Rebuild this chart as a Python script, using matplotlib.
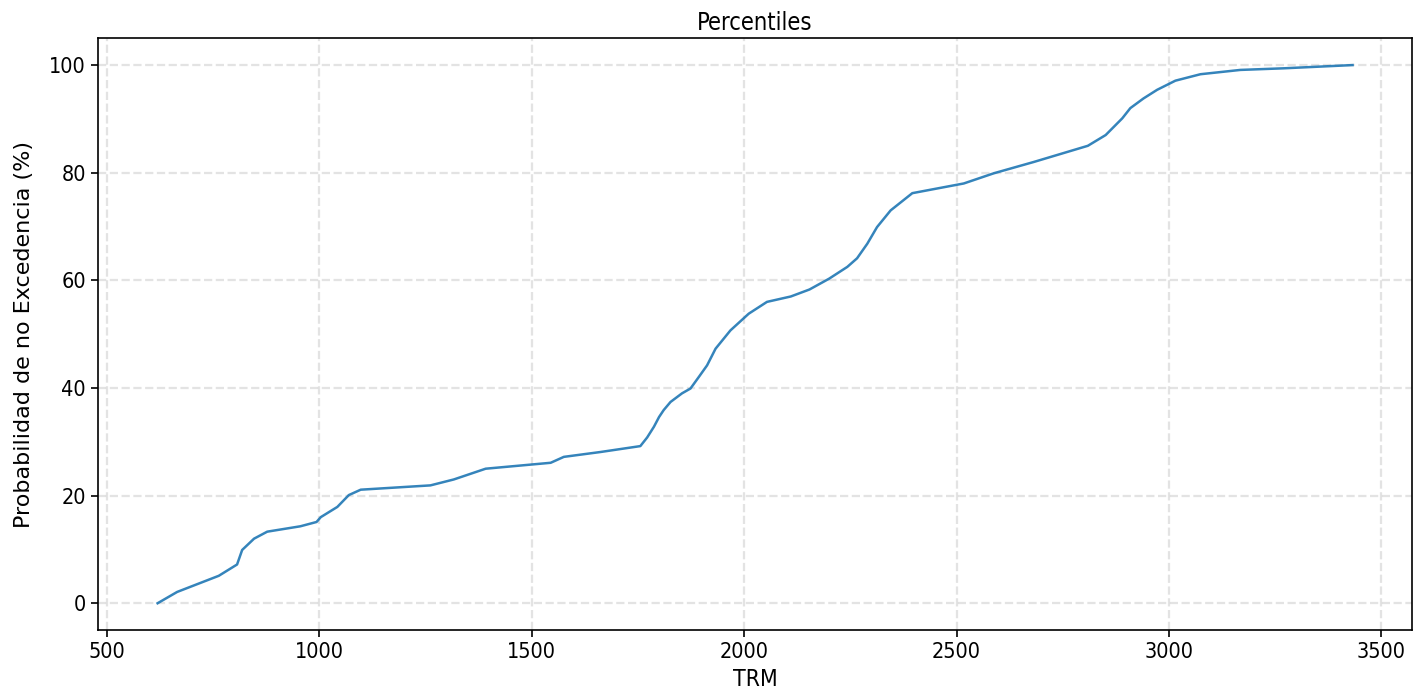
import matplotlib
matplotlib.use("Agg")
import matplotlib.pyplot as plt

trm = [620, 666, 764, 807, 819, 847, 878, 956, 994, 1004, 1043, 1070, 1098,
       1262, 1317, 1392, 1545, 1576, 1662, 1756, 1772, 1788, 1800, 1811, 1827,
       1854, 1874, 1895, 1913, 1933, 1968, 2011, 2054, 2110, 2154, 2200, 2243,
       2266, 2290, 2313, 2345, 2396, 2517, 2588, 2682, 2809, 2851, 2890, 2909,
       2940, 2972, 3015, 3074, 3168, 3270, 3432]
prob = [0.0, 2.1, 5.1, 7.2, 9.9, 12.0, 13.3, 14.3, 15.1, 16.0, 17.9, 20.1, 21.1,
        21.9, 23.0, 25.0, 26.1, 27.2, 28.1, 29.2, 30.8, 32.8, 34.6, 35.9, 37.4,
        39.0, 39.9, 42.2, 44.2, 47.3, 50.7, 53.8, 56.0, 57.0, 58.3, 60.3, 62.5,
        64.1, 66.8, 69.9, 73.0, 76.2, 78.0, 79.9, 82.0, 85.0, 87.0, 90.1, 92.0,
        93.8, 95.4, 97.1, 98.3, 99.1, 99.4, 100.0]

fig, ax = plt.subplots(figsize=(14.18, 6.94), dpi=100)
ax.plot(trm, prob, color='#1f77b4', linewidth=1.8, alpha=0.9)
ax.set_title('Percentiles', fontsize=17, fontstretch='condensed', pad=6)
ax.set_xlabel('TRM', fontsize=16.5, fontstretch='condensed', labelpad=4)
ax.set_ylabel('Probabilidad de no Excedencia (%)', fontsize=16, labelpad=11)
for lab in ax.get_xticklabels() + ax.get_yticklabels():
    lab.set_fontsize(15.5)
    lab.set_fontstretch('condensed')
ax.tick_params(length=5, width=1.2)
for s in ax.spines.values():
    s.set_linewidth(1.2)
ax.grid(True, linestyle='--', linewidth=1.6, alpha=0.35)
fig.subplots_adjust(left=0.069, right=0.996, top=0.945, bottom=0.092)
fig.savefig('out.png', dpi=100)
